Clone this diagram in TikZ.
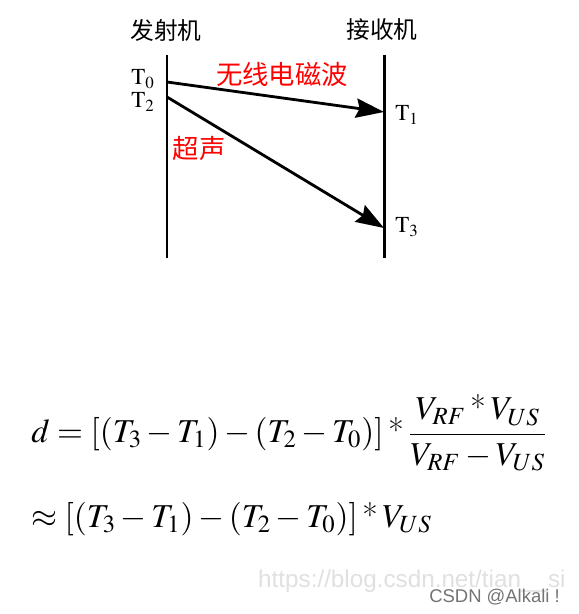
\documentclass[tikz,border=0pt]{standalone}
\usepackage{amsmath}
\usepackage{mathptmx}
\usepackage[no-math]{fontspec}
\newfontfamily\cjk{Noto Sans CJK SC}
\newfontfamily\wmfont{Liberation Sans}
\usetikzlibrary{arrows.meta}

\newcommand{\tstar}{\mathbin{\text{*}}}

\tikzset{
  lifeline/.style={line width=1.7pt},
  msg/.style={line width=1.6pt,-{Stealth[length=16pt,width=11pt,inset=2pt]}},
  station/.style={font=\cjk\fontsize{13.5}{15}\selectfont},
  wave/.style={text=red,font=\cjk\fontsize{15}{17}\selectfont},
  stamp/.style={font=\fontsize{13}{15}\selectfont,inner sep=0pt},
  formula/.style={font=\fontsize{19}{23}\selectfont,anchor=west,inner sep=0pt}
}

\begin{document}
\begin{tikzpicture}[x=0.02cm,y=-0.02cm]
\useasboundingbox (0,0) rectangle (578,614);
% sender and receiver
\node[station] (send) at (166,30) {发射机};
\node[station] (recv) at (382,30) {接收机};
\coordinate (sendtop) at (167,55);
\coordinate (sendbot) at (167,258);
\coordinate (recvtop) at (384,55);
\coordinate (recvbot) at (384,258);
\draw[lifeline] (sendtop) -- (sendbot);
\draw[lifeline] (recvtop) -- (recvbot);
% time stamps
\node[stamp] (tzero) at (143,79) {$\mathrm{T}_0$};
\node[stamp] (ttwo) at (143,102) {$\mathrm{T}_2$};
\node[stamp] (tone) at (407,115) {$\mathrm{T}_1$};
\node[stamp] (tthree) at (407,227) {$\mathrm{T}_3$};
\coordinate (rfstart) at (167,82);
\coordinate (rfend) at (384,112);
\coordinate (usstart) at (167,97);
\coordinate (usend) at (384,228);
\draw[msg] (rfstart) -- (rfend);
\draw[msg] (usstart) -- (usend);
\node[wave] (rf) at (282,74) {无线电磁波};
\node[wave] (us) at (199,149) {超声};
% distance
\node[formula] (dist) at (31,433)
  {$\displaystyle d=[(T_3-T_1)-(T_2-T_0)]\tstar\frac{V_{RF}\tstar V_{US}}{V_{RF}-V_{US}}$};
\node[formula] (approx) at (31,519)
  {$\approx[(T_3-T_1)-(T_2-T_0)]\tstar V_{US}$};
% watermark
\node[font=\wmfont\fontsize{13.8}{16}\selectfont,text=black!12,anchor=west] (url) at (252,581) {https://blog.csdn.net/tian\_\_si};
\node[font=\wmfont\fontsize{10.5}{12}\selectfont,text=black!55,anchor=east] (csdn) at (566,597) {CSDN @Alkali !};
\end{tikzpicture}
\end{document}
